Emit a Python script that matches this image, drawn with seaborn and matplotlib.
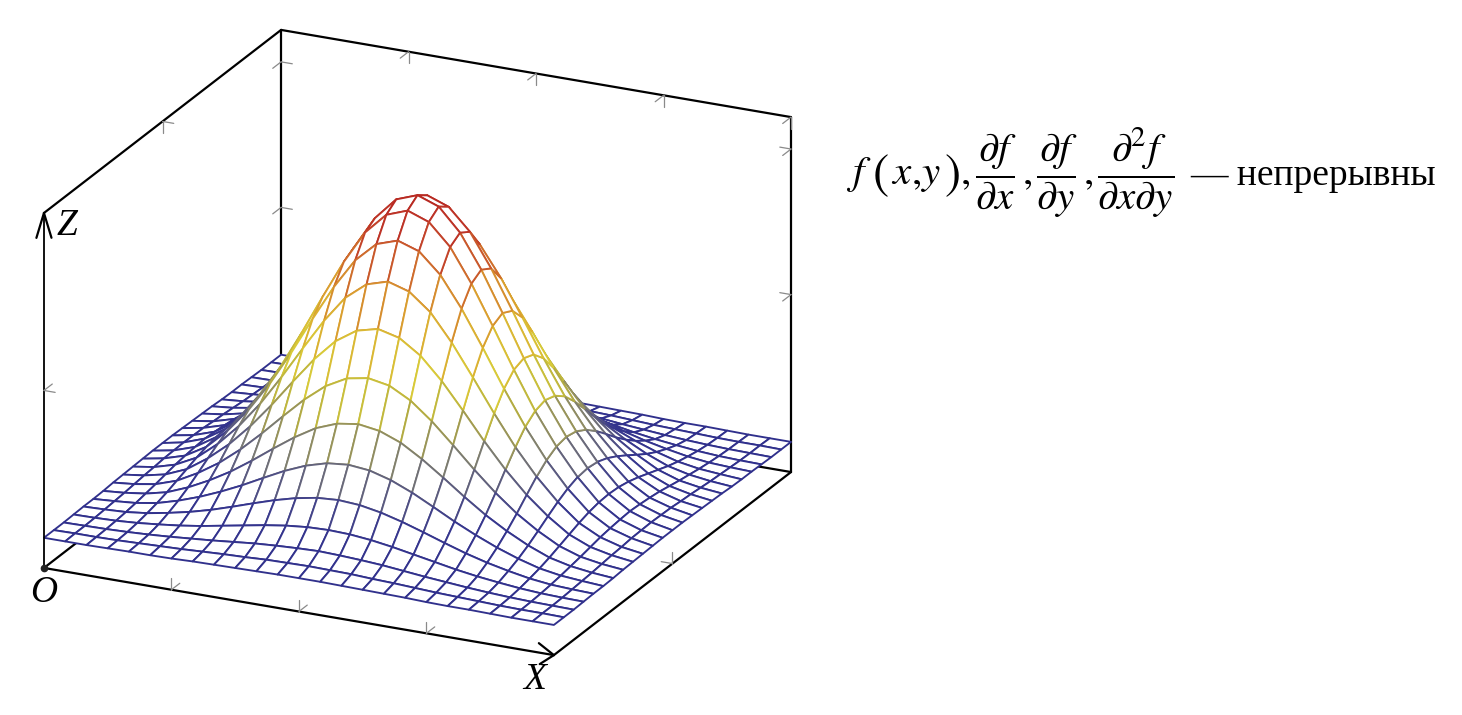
import numpy as np
import matplotlib
matplotlib.use("Agg")
import matplotlib.pyplot as plt
import seaborn as sns
from mpl_toolkits.mplot3d.art3d import Poly3DCollection

# Surface height (percent of box height), quarter of the surface.
# Row 0 is the middle row, column 0 the middle column.
z_row_0 = [91.5, 89.3, 83.0, 73.6, 62.4, 50.7, 39.9, 30.6, 22.8, 16.5, 12.7, 10.6, 9.4]
z_row_1 = [89.3, 87.1, 81.1, 71.8, 60.9, 49.6, 39.0, 30.0, 22.4, 16.3, 12.5, 10.5, 9.4]
z_row_2 = [83.0, 81.0, 75.4, 66.9, 56.9, 46.4, 36.7, 28.3, 21.3, 15.7, 12.2, 10.4, 9.3]
z_row_3 = [73.6, 71.8, 67.0, 59.5, 50.7, 41.6, 33.1, 25.8, 19.7, 14.8, 11.8, 10.1, 9.2]
z_row_4 = [62.4, 60.9, 56.9, 50.8, 43.5, 35.9, 28.9, 22.8, 17.8, 13.7, 11.2, 9.9, 9.1]
z_row_5 = [50.7, 49.6, 46.4, 41.6, 35.9, 30.0, 24.5, 19.7, 15.8, 12.6, 10.6, 9.6, 9.0]
z_row_6 = [39.9, 39.0, 36.7, 33.1, 28.9, 24.5, 20.4, 16.9, 13.9, 11.5, 10.1, 9.3, 8.8]
z_row_7 = [30.6, 30.0, 28.3, 25.8, 22.8, 19.7, 16.9, 14.4, 12.3, 10.6, 9.6, 9.1, 8.7]
z_row_8 = [22.8, 22.4, 21.3, 19.7, 17.8, 15.8, 13.9, 12.3, 11.0, 9.9, 9.2, 8.9, 8.7]
z_row_9 = [16.5, 16.3, 15.7, 14.8, 13.7, 12.6, 11.5, 10.6, 9.9, 9.3, 8.9, 8.7, 8.6]
z_row_10 = [12.7, 12.5, 12.2, 11.8, 11.2, 10.6, 10.1, 9.6, 9.2, 8.9, 8.7, 8.6, 8.5]
z_row_11 = [10.6, 10.5, 10.4, 10.1, 9.9, 9.6, 9.3, 9.1, 8.9, 8.7, 8.6, 8.6, 8.5]
z_row_12 = [9.4, 9.4, 9.3, 9.2, 9.1, 9.0, 8.8, 8.7, 8.7, 8.6, 8.5, 8.5, 8.5]

x_ticks = [0.25, 0.5, 0.75, 1.0]
y_ticks = [0.5]
z_ticks = [0.5, 0.91]

mesh_colors = ["#30308c", "#36368e", "#7d7d72", "#b5ad40", "#d8cc38", "#dca830", "#d0702c", "#c0382a", "#b5251f"]
mesh_stops = [0.0, 0.1, 0.26, 0.38, 0.48, 0.65, 0.78, 0.9, 1.0]

W, H = 1462, 715

sns.set_theme(style="white")
plt.rcParams["font.family"] = ["Liberation Serif", "DejaVu Serif"]
plt.rcParams["mathtext.fontset"] = "stix"

# mirror the quarter into the full table
quarter = np.array([z_row_0, z_row_1, z_row_2, z_row_3, z_row_4, z_row_5, z_row_6,
                    z_row_7, z_row_8, z_row_9, z_row_10, z_row_11, z_row_12]) / 100.0
half = np.hstack([quarter[:, :0:-1], quarter])
Z = np.vstack([half[:0:-1], half])
xs = np.linspace(0, 1, Z.shape[1])
ys = np.linspace(0, 1, Z.shape[0])

fig = plt.figure(figsize=(W / 100, H / 100), dpi=100, facecolor="white")
side = 853.5
ax = fig.add_axes([-20.8 / W, -65.8 / H, side / W, side / H], projection="3d")
ax.set_proj_type("ortho")
ax.view_init(elev=21.3, azim=-64.8)
ax.set_box_aspect((563.6, 557, 381))
ax.set_xlim(0, 1, view_margin=0)
ax.set_ylim(0, 1, view_margin=0)
ax.set_zlim(0, 1, view_margin=0)
ax.set_axis_off()
ax.patch.set_alpha(0)
ax.computed_zorder = False


def stroke(p, q, color="black", lw=1.6, zorder=1):
    ax.plot([p[0], q[0]], [p[1], q[1]], [p[2], q[2]], color=color, lw=lw,
            zorder=zorder, solid_capstyle="round")


# box lines behind the surface
stroke((0, 1, 0), (0, 1, 1))
stroke((1, 1, 0), (1, 1, 1))
stroke((0, 0, 0), (0, 1, 0))
stroke((0, 1, 0), (1, 1, 0))

# surface as white quads with coloured edges
cmap = sns.blend_palette(mesh_colors, n_colors=256, as_cmap=True)
zmin, zmax = Z.min(), Z.max()
verts = []
edges = []
for j in range(len(ys) - 1):
    for i in range(len(xs) - 1):
        verts.append([(xs[i], ys[j], Z[j, i]), (xs[i + 1], ys[j], Z[j, i + 1]),
                      (xs[i + 1], ys[j + 1], Z[j + 1, i + 1]), (xs[i], ys[j + 1], Z[j + 1, i])])
        level = (Z[j:j + 2, i:i + 2].mean() - zmin) / (zmax - zmin)
        edges.append(cmap(np.interp(level, mesh_stops, np.linspace(0, 1, len(mesh_stops)))))
mesh = Poly3DCollection(verts, facecolors="white", edgecolors=edges, linewidths=1.35,
                        zsort="average", zorder=2)
ax.add_collection3d(mesh, autolim=False)

# front and top box lines
stroke((0, 0, 0), (1, 0, 0), zorder=3)
stroke((1, 0, 0), (1, 1, 0), zorder=3)
stroke((0, 0, 0), (0, 0, 1), lw=1.3, zorder=3)
stroke((0, 0, 1), (0, 1, 1), zorder=3)
stroke((0, 1, 1), (1, 1, 1), zorder=3)

# arrow heads
stroke((0, 0, 1), (-0.012, -0.006, 0.93), zorder=3)
stroke((0, 0, 1), (0.012, 0.006, 0.93), zorder=3)
stroke((1, 0, 0), (0.951, 0.042, 0), zorder=3)
stroke((1, 0, 0), (0.996, -0.051, 0), zorder=3)
ax.plot([0], [0], [0], "o", color="#222222", ms=4.5, zorder=4)

# small grey ticks
tick_len = 0.022
tick_kw = dict(color="#8a8a8a", lw=0.9, zorder=3)
for t in x_ticks[:3]:
    stroke((t, 0, 0), (t, 0, tick_len * 1.5), **tick_kw)
    stroke((t, 0, 0), (t, tick_len * 1.6, 0), **tick_kw)
for t in x_ticks:
    stroke((t, 1, 1), (t, 1, 1 - tick_len * 1.5), **tick_kw)
    stroke((t, 1, 1), (t, 1 - tick_len * 1.6, 1), **tick_kw)
for t in y_ticks:
    stroke((0, t, 1), (tick_len, t, 1), **tick_kw)
    stroke((0, t, 1), (0, t, 1 - tick_len * 1.5), **tick_kw)
    stroke((1, t, 0), (1 - tick_len, t, 0), **tick_kw)
    stroke((1, t, 0), (1, t, tick_len * 1.5), **tick_kw)
for t in z_ticks:
    stroke((0, 1, t), (tick_len, 1, t), **tick_kw)
    stroke((0, 1, t), (0, 1 - tick_len * 1.6, t), **tick_kw)
    stroke((1, 1, t), (1 - tick_len, 1, t), **tick_kw)
    stroke((1, 1, t), (1, 1 - tick_len * 1.6, t), **tick_kw)
stroke((0, 0, 0.5), (tick_len, 0, 0.5), **tick_kw)
stroke((0, 0, 0.5), (0, tick_len * 1.6, 0.5), **tick_kw)


def label(px, py, s, **kw):
    fig.text(px / W, 1 - py / H, s, color="black", va="baseline", **kw)


label(57, 235, "Z", fontsize=27, style="italic")
label(30, 602, "O", fontsize=27, style="italic")
label(523, 689, "X", fontsize=27, style="italic")

# formula, piece by piece so the spacing follows the picture
formula_parts = [
    (846, 184, r"$f$", 29.5), (872, 188, r"$($", 35), (891, 184, r"$x$", 29.5), (911, 184, r"$,$", 29.5),
    (921, 184, r"$y$", 29.5), (944, 188, r"$)$", 35), (960, 184, r"$,$", 29.5),
    (975, 185, r"$\dfrac{\partial f}{\partial x}$", 29.5), (1022, 184, r"$,$", 29.5),
    (1036, 185, r"$\dfrac{\partial f}{\partial y}$", 29.5), (1083, 184, r"$,$", 29.5),
    (1097, 185, r"$\dfrac{\partial^2 f}{\partial x\partial y}$", 29.5),
]
for px, py, s, size in formula_parts:
    label(px, py, s, fontsize=size)
label(1190, 185, "— непрерывны", fontsize=27)

fig.savefig("out.png", dpi=100, facecolor="white")
